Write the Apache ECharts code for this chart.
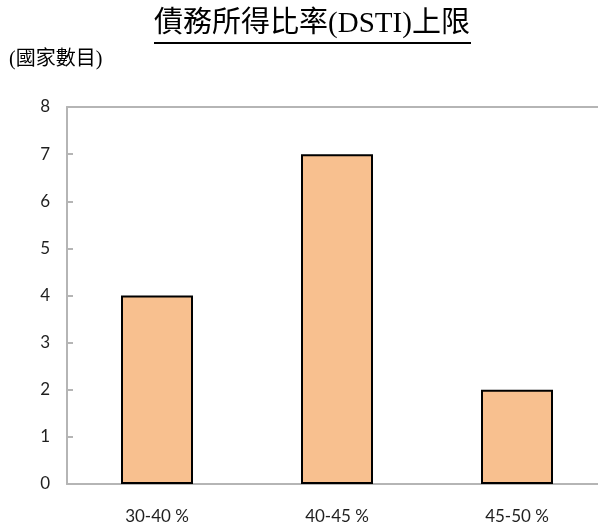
<!DOCTYPE html>
<html>
<head>
<meta charset="utf-8">
<script src="https://cdn.jsdelivr.net/npm/echarts@6/dist/echarts.min.js"></script>
<style>
  html, body { margin: 0; padding: 0; background: #fff; }
  #chart { width: 598px; height: 525px; }
</style>
</head>
<body>
<div id="chart"></div>
<script>
// DSTI cap ranges and number of countries in each
const categories = ['30-40 %', '40-45 %', '45-50 %'];
const countries = [4, 7, 2];
const yTicks = [0, 1, 2, 3, 4, 5, 6, 7, 8];

const titleText = '債務所得比率(DSTI)上限';
const unitText = '(國家數目)';

const axisGray = '#b5b5b5';
const labelColor = '#1f1f1f';
const labelFont = 'Lato, "Open Sans", sans-serif';
const titleFont = '"Liberation Serif", "Noto Sans CJK TC", serif';

const chart = echarts.init(document.getElementById('chart'));
chart.setOption({
  animation: false,
  backgroundColor: '#ffffff',
  grid: {
    left: 67, width: 540, top: 107, bottom: 41,
    containLabel: false, outerBoundsMode: 'none'
  },
  graphic: [
    {
      type: 'text',
      style: {
        x: 312, y: 10, text: titleText, font: '29px ' + titleFont,
        fill: '#000', textAlign: 'center', textVerticalAlign: 'top'
      }
    },
    {
      type: 'line',
      shape: { x1: 154, y1: 43, x2: 471, y2: 43 },
      style: { stroke: '#000', lineWidth: 2 }
    },
    {
      type: 'text',
      style: {
        x: 9, y: 50, text: unitText, font: '20px ' + titleFont,
        fill: '#000', textVerticalAlign: 'top'
      }
    }
  ],
  xAxis: [
    {
      type: 'category',
      data: categories,
      axisLine: { lineStyle: { color: axisGray, width: 2 } },
      axisTick: { inside: true, length: 8, lineStyle: { color: axisGray, width: 2 } },
      axisLabel: { margin: 24, color: labelColor, fontSize: 17, fontFamily: labelFont },
      splitLine: { show: false }
    },
    {
      type: 'category',
      position: 'top',
      data: categories,
      axisLine: { show: true, lineStyle: { color: axisGray, width: 2 } },
      axisTick: { show: false },
      axisLabel: { show: false }
    }
  ],
  yAxis: {
    type: 'value',
    min: yTicks[0],
    max: yTicks[yTicks.length - 1],
    interval: 1,
    axisLine: { show: true, lineStyle: { color: axisGray, width: 2 } },
    axisTick: { show: true, inside: true, length: 6, lineStyle: { color: axisGray, width: 2 } },
    axisLabel: { margin: 17, color: labelColor, fontSize: 17, fontFamily: labelFont },
    splitLine: { show: false }
  },
  series: [
    {
      type: 'bar',
      data: countries,
      barWidth: '40%',
      itemStyle: { color: '#F8C08F', borderColor: '#000', borderWidth: 2 }
    }
  ]
});
</script>
</body>
</html>
